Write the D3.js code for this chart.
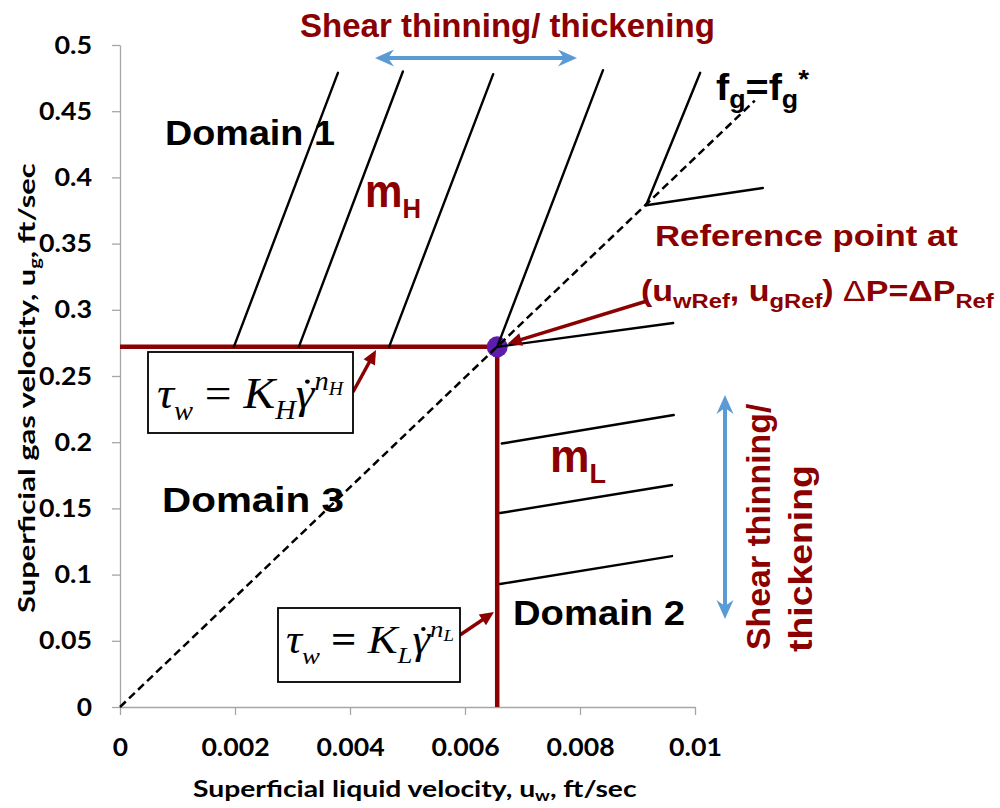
<!DOCTYPE html>
<html>
<head>
<meta charset="utf-8">
<script src="https://cdn.jsdelivr.net/npm/d3@7"></script>
<style>
  body { margin: 0; background: #fff; }
  svg { display: block; }
</style>
</head>
<body>
<script>
// ---- axis ticks ----
const xTicks = [0, 0.002, 0.004, 0.006, 0.008, 0.01];
const xTickLabels = ["0", "0.002", "0.004", "0.006", "0.008", "0.01"];
const yTicks = [0, 0.05, 0.1, 0.15, 0.2, 0.25, 0.3, 0.35, 0.4, 0.45, 0.5];
const yTickLabels = ["0", "0.05", "0.1", "0.15", "0.2", "0.25", "0.3", "0.35", "0.4", "0.45", "0.5"];

// ---- reference point (uwRef, ugRef) ----
const refPoint = [0.00656, 0.272];

// ---- fg = fg* line through the origin and the reference point ----
const fgLine = [[0, 0], [0.01104, 0.458]];

// ---- steep constant-pressure lines (slope mH), domain 1 ----
const highLines = [
  [[0.00198, 0.272], [0.00379, 0.479]],
  [[0.00311, 0.272], [0.00492, 0.480]],
  [[0.00468, 0.272], [0.00649, 0.478]],
  [[0.00656, 0.272], [0.00840, 0.481]],
  [[0.00915, 0.379], [0.01009, 0.479]]
];

// ---- shallow constant-pressure lines (slope mL), domain 2 ----
const lowLines = [
  [[0.00656, 0.272], [0.00962, 0.290]],
  [[0.00664, 0.1990], [0.00963, 0.2205]],
  [[0.00661, 0.1465], [0.00960, 0.1677]],
  [[0.00661, 0.0929], [0.00960, 0.1140]],
  [[0.00915, 0.379], [0.01118, 0.392]]
];

const W = 1000, H = 808;
const RED = "#8B0000", BLUE = "#5B9BD5", PURPLE = "#5E1CAE";
const SANS = "'Liberation Sans', Arial, sans-serif";
const AXISFONT = "Lato, 'Open Sans', sans-serif";
const SERIF = "'Liberation Serif', 'Times New Roman', serif";

const svg = d3.select("body").append("svg").attr("width", W).attr("height", H);

const x = d3.scaleLinear().domain([0, 0.01]).range([120, 695]);
const y = d3.scaleLinear().domain([0, 0.5]).range([707, 45]);

// fit a group's rendered width to a target width (horizontal scale only)
function fit(inner, width) {
  const b = inner.node().getBBox();
  inner.attr("transform", `scale(${width / b.width},1) translate(${-b.x},0)`);
}
// tick-label width: digits plus decimal point
const labelWidth = s => s.replace(".", "").length * 15.3 + (s.includes(".") ? 7 : 0);

// ---- axes ----
const yAxis = svg.append("g").attr("transform", `translate(${x(0)},0)`)
  .call(d3.axisLeft(y).tickValues(yTicks).tickFormat((d, i) => yTickLabels[i])
    .tickSize(8).tickSizeOuter(0).tickPadding(20));
const xAxis = svg.append("g").attr("transform", `translate(0,${y(0)})`)
  .call(d3.axisBottom(x).tickValues(xTicks).tickFormat((d, i) => xTickLabels[i])
    .tickSize(8).tickSizeOuter(0).tickPadding(23));
[yAxis, xAxis].forEach(a => {
  a.select(".domain").attr("stroke", "#A6A6A6").attr("stroke-width", 1.3);
  a.selectAll(".tick line").attr("stroke", "#A6A6A6").attr("stroke-width", 1.3);
  a.selectAll(".tick text").attr("fill", "#000").style("font-family", AXISFONT)
    .style("font-weight", 700).style("font-size", "25px")
    .attr("textLength", (d, i, n) => labelWidth(n[i].textContent))
    .attr("lengthAdjust", "spacingAndGlyphs");
});

// axis titles
{
  const g = svg.append("g").attr("transform", `translate(193,797)`);
  const inner = g.append("g");
  const t = inner.append("text").style("font-family", AXISFONT).style("font-weight", 700)
    .style("font-size", "23px").attr("fill", "#000");
  t.append("tspan").text("Superficial liquid velocity, u");
  t.append("tspan").text("w").style("font-size", "15px").attr("dy", 4);
  t.append("tspan").text(", ft/sec").attr("dy", -4);
  fit(inner, 444);
}
{
  const g = svg.append("g").attr("transform", `translate(35,613) rotate(-90)`);
  const inner = g.append("g");
  const t = inner.append("text").style("font-family", AXISFONT).style("font-weight", 700)
    .style("font-size", "23px").attr("fill", "#000");
  t.append("tspan").text("Superficial gas velocity, u");
  t.append("tspan").text("g").style("font-size", "15px").attr("dy", 5);
  t.append("tspan").text(", ft/sec").attr("dy", -5);
  fit(inner, 450);
}

const line = d3.line().x(d => x(d[0])).y(d => y(d[1]));

// ---- domain boundaries (red) ----
svg.append("path").attr("d", line([[0, refPoint[1]], refPoint]))
  .attr("stroke", RED).attr("stroke-width", 4.5).attr("fill", "none");
svg.append("path").attr("d", line([refPoint, [refPoint[0], 0]]))
  .attr("stroke", RED).attr("stroke-width", 4.5).attr("fill", "none");

// reference point marker
svg.append("circle").attr("cx", x(refPoint[0])).attr("cy", y(refPoint[1])).attr("r", 10.5)
  .attr("fill", PURPLE);

// fg = fg* dashed line
svg.append("path").attr("d", line(fgLine)).attr("stroke", "#000").attr("stroke-width", 2.5)
  .attr("stroke-dasharray", "8,4.5").attr("fill", "none");

// constant-pressure lines
svg.append("g").selectAll("path").data(highLines.concat(lowLines)).join("path")
  .attr("d", d => line(d)).attr("stroke", "#000").attr("stroke-width", 2.4)
  .attr("stroke-linecap", "round").attr("fill", "none");

// ---- arrows ----
function redArrow(x1, y1, x2, y2) {
  const a = Math.atan2(y2 - y1, x2 - x1), L = 14, hw = 6.5;
  const bx = x2 - L * Math.cos(a), by = y2 - L * Math.sin(a);
  svg.append("line").attr("x1", x1).attr("y1", y1).attr("x2", bx + 2 * Math.cos(a)).attr("y2", by + 2 * Math.sin(a))
    .attr("stroke", RED).attr("stroke-width", 3.5);
  svg.append("path").attr("d",
    `M${x2},${y2}L${bx - hw * Math.sin(a)},${by + hw * Math.cos(a)}L${bx + hw * Math.sin(a)},${by - hw * Math.cos(a)}Z`)
    .attr("fill", RED);
}
function blueArrow(x1, y1, x2, y2) {
  const a = Math.atan2(y2 - y1, x2 - x1), len = Math.hypot(x2 - x1, y2 - y1);
  const g = svg.append("g").attr("transform", `translate(${x1},${y1}) rotate(${a * 180 / Math.PI})`);
  g.append("line").attr("x1", 6).attr("x2", len - 6).attr("stroke", BLUE).attr("stroke-width", 4);
  const head = "M0,0L19,-8.5L13,0L19,8.5Z";
  g.append("path").attr("d", head).attr("fill", BLUE);
  g.append("path").attr("d", head).attr("fill", BLUE).attr("transform", `translate(${len},0) scale(-1,1)`);
}

const rx = x(refPoint[0]), ry = y(refPoint[1]);
{
  const sx = 647, sy = 301, a = Math.atan2(ry - sy, rx - sx);
  redArrow(sx, sy, rx - 11 * Math.cos(a), ry - 11 * Math.sin(a));
}
redArrow(353, 392, 376, 350);
redArrow(457, 637, 494, 612);

blueArrow(375, 58, 577, 58);
blueArrow(725, 395, 725, 619);

// ---- text labels ----
function label(xp, yp, width, parts, opts = {}) {
  const g = svg.append("g").attr("transform", `translate(${xp},${yp})${opts.rotate ? " rotate(" + opts.rotate + ")" : ""}`);
  const inner = g.append("g");
  const t = inner.append("text").attr("fill", opts.fill || "#000")
    .style("font-family", opts.family || SANS).style("font-weight", opts.weight || 700)
    .style("font-size", opts.size + "px");
  parts.forEach(p => {
    const s = t.append("tspan").text(p.t);
    if (p.size) s.style("font-size", p.size + "px");
    if (p.dy) s.attr("dy", p.dy);
    if (p.style) s.style("font-style", p.style);
    if (p.weight) s.style("font-weight", p.weight);
    if (p.family) s.style("font-family", p.family);
  });
  if (width) fit(inner, width);
  return { g, inner, t };
}

label(300, 37, 415, [{ t: "Shear thinning/ thickening" }], { size: 34, fill: RED });
label(165, 145, 170, [{ t: "Domain 1" }], { size: 36 });
label(162, 512, 182, [{ t: "Domain 3" }], { size: 36 });
label(513, 625, 172, [{ t: "Domain 2" }], { size: 36 });

label(365, 207, 56, [{ t: "m", size: 46 }, { t: "H", size: 28, dy: 11 }], { size: 46, fill: RED });
label(550, 472, 56, [{ t: "m", size: 46 }, { t: "L", size: 28, dy: 11 }], { size: 46, fill: RED });

label(716, 100, 94, [{ t: "f" }, { t: "g", size: 25, dy: 8 }, { t: "=f", dy: -8 }, { t: "g", size: 25, dy: 8 },
  { t: "*", size: 26, dy: -20 }], { size: 37 });

label(655, 246, 303, [{ t: "Reference point at" }], { size: 30, fill: RED });
label(641, 301, 354, [{ t: "(u" }, { t: "wRef", size: 21, dy: 7 }, { t: ", u", dy: -7 }, { t: "gRef", size: 21, dy: 7 },
  { t: ") ", dy: -7 }, { t: "\u0394", weight: 400 }, { t: "P=\u0394P" }, { t: "Ref", size: 21, dy: 7 }],
  { size: 30, fill: RED });

label(770, 650, 247, [{ t: "Shear thinning/" }], { size: 34, fill: RED, rotate: -90 });
label(812, 652, 187, [{ t: "thickening" }], { size: 34, fill: RED, rotate: -90 });

// ---- constitutive-law boxes ----
svg.append("rect").attr("x", 148).attr("y", 352).attr("width", 205).attr("height", 81)
  .attr("fill", "#fff").attr("stroke", "#000").attr("stroke-width", 1.8);
svg.append("rect").attr("x", 278).attr("y", 608).attr("width", 182).attr("height", 74)
  .attr("fill", "#fff").attr("stroke", "#000").attr("stroke-width", 1.8);

function law(xp, yp, width, size, sub, eqWeight) {
  const parts = [
    { t: "\u03C4", style: "italic" },
    { t: "w", size: size * 0.6, dy: size * 0.28, style: "italic" },
    { t: " = ", dy: -size * 0.28, weight: eqWeight },
    { t: "K", style: "italic" },
    { t: sub, size: size * 0.6, dy: size * 0.25, style: "italic" },
    { t: "\u03B3", dy: -size * 0.25, style: "italic" },
    { t: "n", size: size * 0.6, dy: -size * 0.4, style: "italic" },
    { t: sub, size: size * 0.42, dy: size * 0.1, style: "italic" }
  ];
  const { inner, t } = label(xp, yp, width, parts, { size: size, family: SERIF, weight: 400 });
  // dot over the shear rate symbol
  const idx = parts.slice(0, 5).reduce((s, p) => s + p.t.length, 0);
  const ext = t.node().getExtentOfChar(idx);
  inner.append("circle").attr("cx", ext.x + ext.width * 0.62).attr("cy", -size * 0.6)
    .attr("r", size * 0.05).attr("fill", "#000");
}
law(157, 408, 188, 44, "H", 400);
law(286, 653, 168, 40, "L", 700);
</script>
</body>
</html>
